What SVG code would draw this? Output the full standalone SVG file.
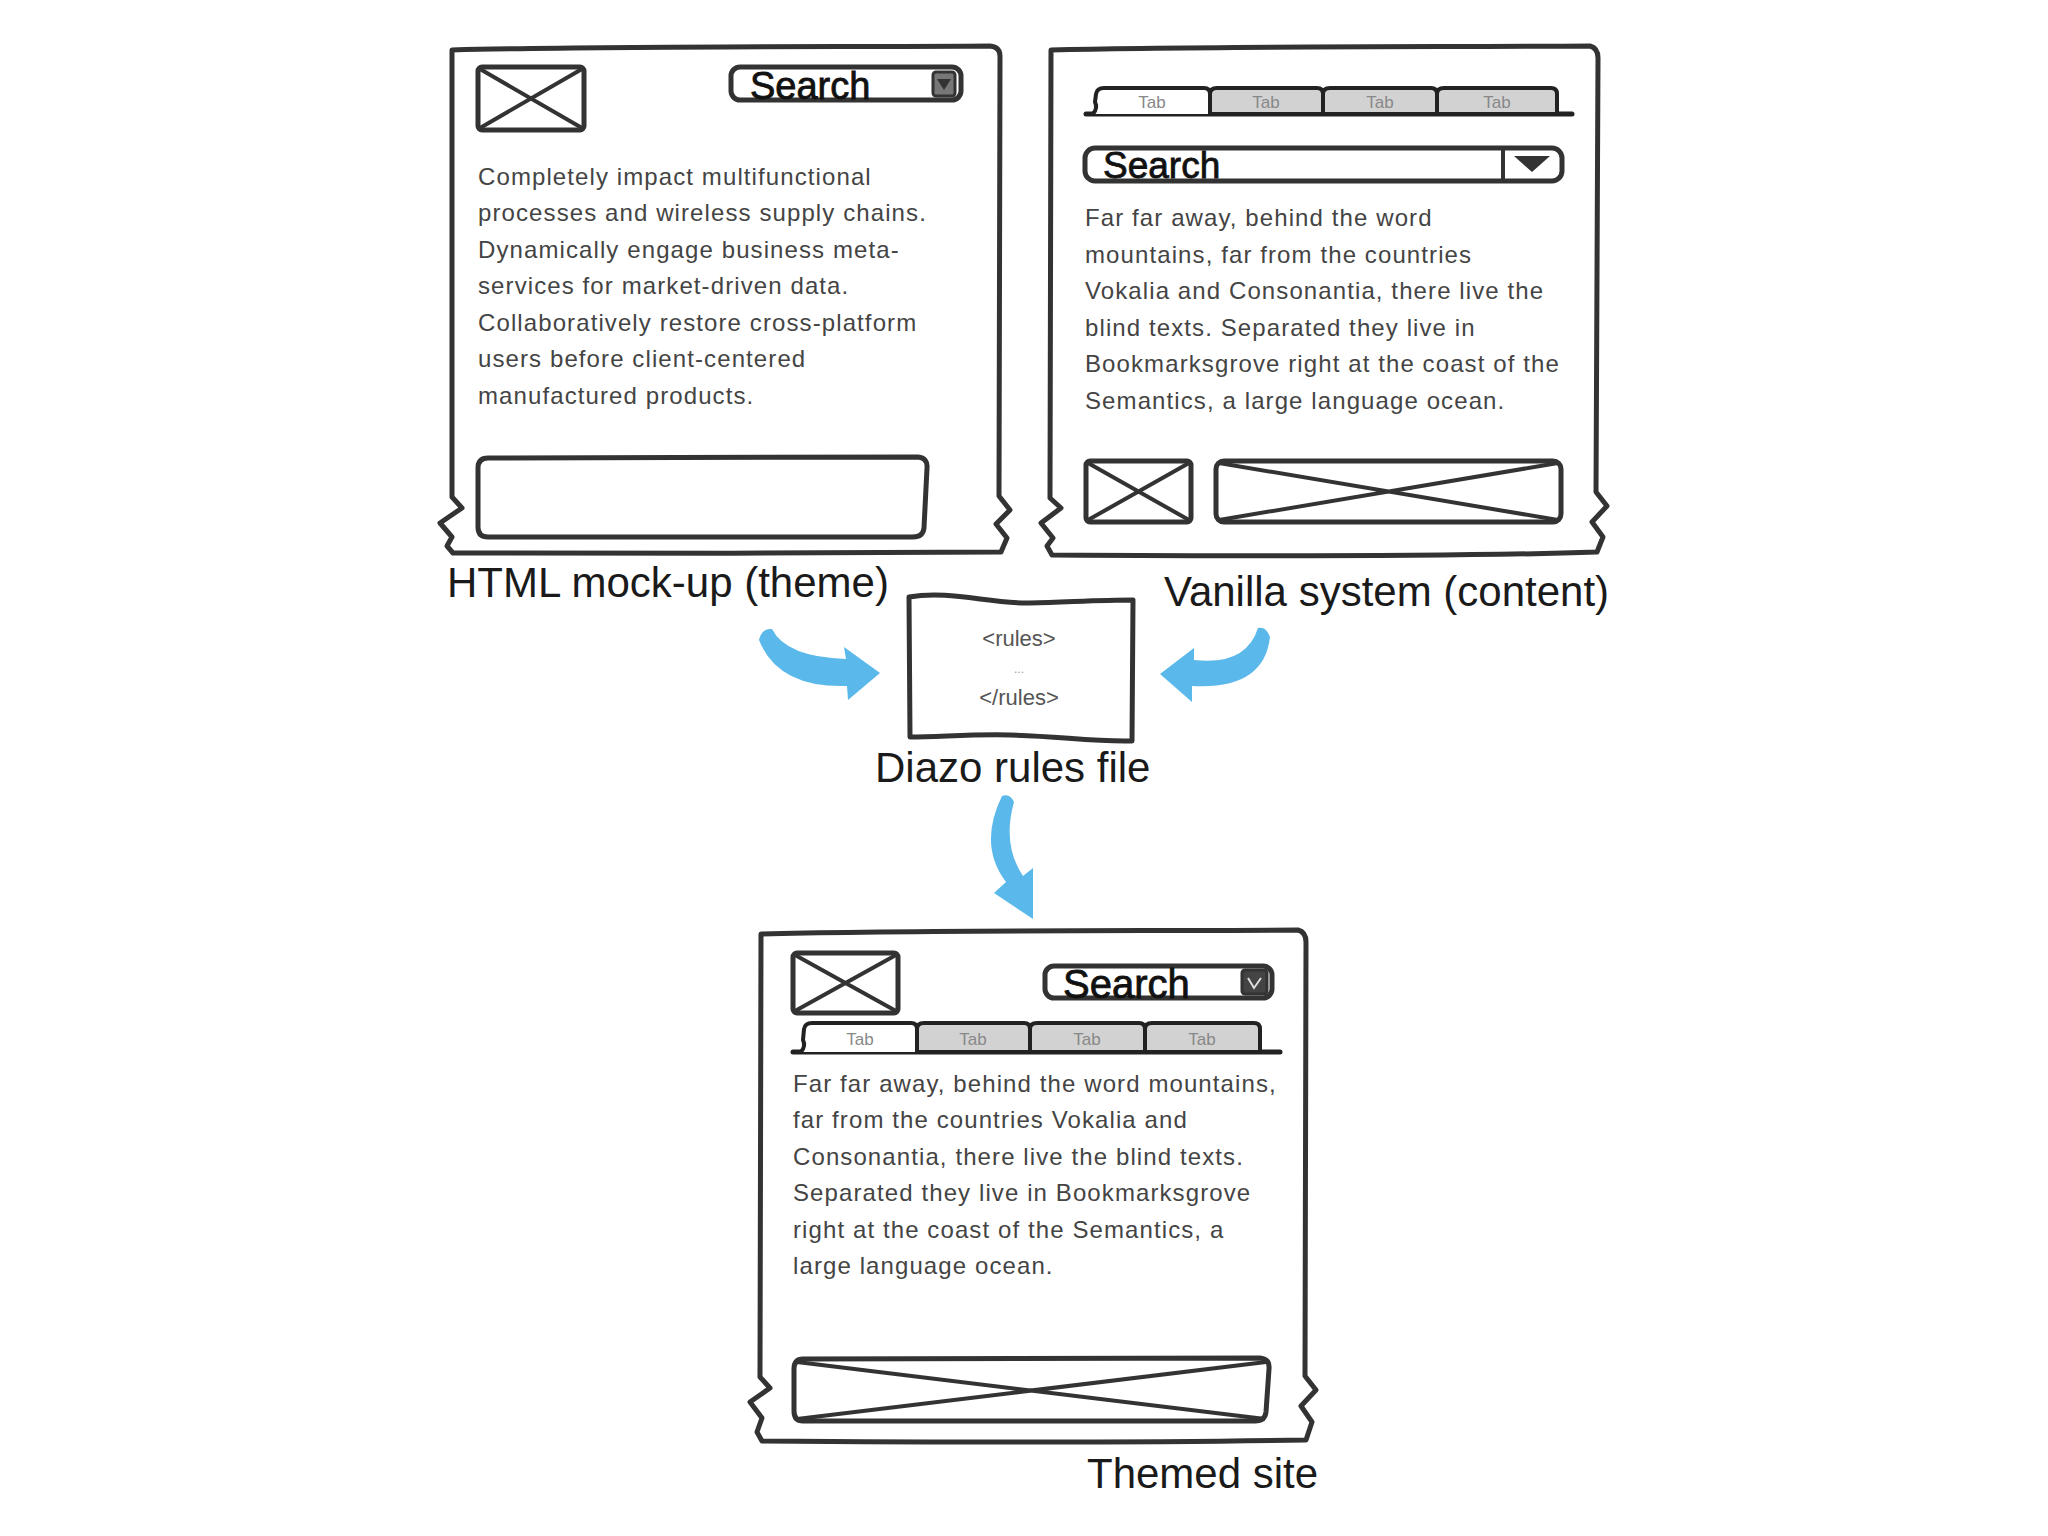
<svg xmlns="http://www.w3.org/2000/svg" width="2048" height="1536" viewBox="0 0 2048 1536">
<style>
.frame{fill:#fff;stroke:#333;stroke-width:5;stroke-linejoin:round}
.ph{fill:none;stroke:#333;stroke-width:5;stroke-linejoin:round}
.xl{stroke:#333;stroke-width:4;fill:none}
.para{font-family:"Liberation Sans",Arial,sans-serif;font-size:24px;letter-spacing:1.1px;fill:#444}
.label{font-family:"Liberation Sans",Arial,sans-serif;font-size:42px;fill:#1a1a1a}
.search{font-family:"Liberation Sans",Arial,sans-serif;font-size:38px;fill:#111;stroke:#111;stroke-width:0.8}
.tabw{fill:#fff;stroke:#222;stroke-width:4;stroke-linejoin:round}
.tabg{fill:#d2d2d2;stroke:#222;stroke-width:4;stroke-linejoin:round}
.tabline{stroke:#222;stroke-width:5;stroke-linecap:round}
.tabtxt{font-family:"Liberation Sans",Arial,sans-serif;font-size:17px;fill:#888;text-anchor:middle}
.rules{font-family:"Liberation Sans",Arial,sans-serif;font-size:22px;fill:#555;text-anchor:middle}
.arrow{fill:#5ab8ea}
</style>
<rect width="2048" height="1536" fill="#fff"/>

<g id="html-mockup">
<path class="frame" d="M452,50 C600,46 850,47 990,46 Q1000,47 1000,56 L999,496 L1010,510 L996,524 L1007,538 L1001,552 C850,554 600,553 453,553 L447,546 L452,537 L440,523 L462,508 L452,497 Z"/>
<rect class="ph" x="478" y="67" width="106" height="63" rx="4"/>
<path class="xl" d="M480,69 L582,128 M582,69 L480,128"/>
<rect class="ph" x="731" y="67" width="230" height="33" rx="9"/>
<text class="search" x="750" y="99">Search</text>
<rect x="933" y="72" width="22" height="24" rx="3" fill="#777" stroke="#333" stroke-width="3"/>
<path d="M937,79 L951,79 L944,90 Z" fill="#333"/>
<text class="para" x="478" y="185">Completely impact multifunctional</text>
<text class="para" x="478" y="221">processes and wireless supply chains.</text>
<text class="para" x="478" y="258">Dynamically engage business meta-</text>
<text class="para" x="478" y="294">services for market-driven data.</text>
<text class="para" x="478" y="331">Collaboratively restore cross-platform</text>
<text class="para" x="478" y="367">users before client-centered</text>
<text class="para" x="478" y="404">manufactured products.</text>
<path class="ph" d="M488,458 L918,457 Q928,458 927,468 L924,528 Q923,537 913,537 L488,537 Q478,537 478,527 L478,468 Q478,458 488,458 Z"/>
<text class="label" x="447" y="597">HTML mock-up (theme)</text>
</g>

<g id="vanilla-system">
<path class="frame" d="M1051,50 C1200,46 1450,47 1590,46 Q1598,48 1598,58 L1596,492 L1607,506 L1592,522 L1603,537 L1597,552 C1450,557 1200,556 1052,555 L1047,546 L1053,538 L1041,523 L1061,508 L1050,498 Z"/>
<line class="tabline" x1="1086" y1="114" x2="1572" y2="114"/>
<path class="tabg" d="M1437,114 L1437,94 Q1437,88 1444,88 L1551,88 Q1557,88 1557,94 L1557,114 Z"/>
<path class="tabg" d="M1323,114 L1323,94 Q1323,88 1330,88 L1431,88 Q1437,88 1437,94 L1437,114 Z"/>
<path class="tabg" d="M1210,114 L1210,94 Q1210,88 1217,88 L1317,88 Q1323,88 1323,94 L1323,114 Z"/>
<path class="tabw" d="M1093,114 Q1098,108 1095,102 L1096,94 Q1097,88 1104,88 L1204,88 Q1210,88 1210,94 L1210,114"/>
<text class="tabtxt" x="1152" y="108">Tab</text>
<text class="tabtxt" x="1266" y="108">Tab</text>
<text class="tabtxt" x="1380" y="108">Tab</text>
<text class="tabtxt" x="1497" y="108">Tab</text>
<rect class="ph" x="1085" y="148" width="477" height="33" rx="10"/>
<text class="search" x="1103" y="178" style="font-size:37px">Search</text>
<line x1="1503" y1="150" x2="1503" y2="179" stroke="#333" stroke-width="4"/>
<path d="M1514,156 L1550,156 L1532,172 Z" fill="#333"/>
<text class="para" x="1085" y="226">Far far away, behind the word</text>
<text class="para" x="1085" y="263">mountains, far from the countries</text>
<text class="para" x="1085" y="299">Vokalia and Consonantia, there live the</text>
<text class="para" x="1085" y="336">blind texts. Separated they live in</text>
<text class="para" x="1085" y="372">Bookmarksgrove right at the coast of the</text>
<text class="para" x="1085" y="409">Semantics, a large language ocean.</text>
<rect class="ph" x="1086" y="461" width="105" height="61" rx="4"/>
<path class="xl" d="M1088,463 L1189,520 M1189,463 L1088,520"/>
<rect class="ph" x="1216" y="461" width="345" height="61" rx="8"/>
<path class="xl" d="M1219,463 L1558,520 M1558,463 L1219,520"/>
<text class="label" x="1164" y="606">Vanilla system (content)</text>
</g>

<g id="diazo-rules">
<path class="frame" d="M909,597 C950,590 990,604 1030,603 C1070,602 1100,600 1133,600 L1132,741 C1090,742 1060,736 1010,735 C970,734 940,737 910,737 Z"/>
<text class="rules" x="1019" y="646">&lt;rules&gt;</text>
<text class="rules" x="1019" y="673" style="font-size:12px;fill:#999">...</text>
<text class="rules" x="1019" y="705">&lt;/rules&gt;</text>
<text class="label" x="875" y="782">Diazo rules file</text>
</g>

<g id="themed-site">
<path class="frame" d="M761,934 C900,930 1150,931 1298,930 Q1306,932 1306,942 L1305,1376 L1316,1390 L1301,1406 L1312,1422 L1306,1440 C1150,1443 900,1442 762,1441 L757,1432 L762,1418 L750,1402 L770,1388 L760,1377 Z"/>
<rect class="ph" x="793" y="953" width="105" height="60" rx="4"/>
<path class="xl" d="M795,955 L896,1011 M896,955 L795,1011"/>
<rect class="ph" x="1045" y="966" width="227" height="32" rx="9"/>
<text class="search" x="1063" y="998" style="font-size:40px">Search</text>
<rect x="1242" y="970" width="25" height="24" rx="3" fill="#444" stroke="#333" stroke-width="3"/>
<path d="M1248,978 L1254,988 L1261,978" fill="none" stroke="#ddd" stroke-width="2"/>
<line class="tabline" x1="793" y1="1052" x2="1280" y2="1052"/>
<path class="tabg" d="M1145,1052 L1145,1029 Q1145,1023 1152,1023 L1254,1023 Q1260,1023 1260,1029 L1260,1052 Z"/>
<path class="tabg" d="M1030,1052 L1030,1029 Q1030,1023 1037,1023 L1139,1023 Q1145,1023 1145,1029 L1145,1052 Z"/>
<path class="tabg" d="M917,1052 L917,1029 Q917,1023 924,1023 L1024,1023 Q1030,1023 1030,1029 L1030,1052 Z"/>
<path class="tabw" d="M801,1052 Q806,1046 803,1040 L804,1029 Q805,1023 812,1023 L911,1023 Q917,1023 917,1029 L917,1052"/>
<text class="tabtxt" x="860" y="1045">Tab</text>
<text class="tabtxt" x="973" y="1045">Tab</text>
<text class="tabtxt" x="1087" y="1045">Tab</text>
<text class="tabtxt" x="1202" y="1045">Tab</text>
<text class="para" x="793" y="1092">Far far away, behind the word mountains,</text>
<text class="para" x="793" y="1128">far from the countries Vokalia and</text>
<text class="para" x="793" y="1165">Consonantia, there live the blind texts.</text>
<text class="para" x="793" y="1201">Separated they live in Bookmarksgrove</text>
<text class="para" x="793" y="1238">right at the coast of the Semantics, a</text>
<text class="para" x="793" y="1274">large language ocean.</text>
<path class="ph" d="M803,1359 L1260,1358 Q1270,1359 1269,1369 L1266,1412 Q1265,1421 1255,1421 L803,1421 Q794,1421 794,1411 L794,1369 Q794,1359 803,1359 Z"/>
<path class="xl" d="M797,1362 L1265,1419 M1266,1362 L797,1419"/>
<text class="label" x="1087" y="1488">Themed site</text>
</g>

<g id="connectors">
<path class="arrow" d="M772,629 Q786,657 846,659 L844,647 L880,673 L848,700 L847,686 Q778,688 759,640 Q762,628 772,629 Z"/>
<path class="arrow" d="M1258,628 Q1246,666 1194,660 L1194,648 L1160,674 L1192,702 L1192,686 Q1264,690 1270,637 Q1266,626 1258,628 Z"/>
<path class="arrow" d="M1002,796 Q978,845 1006,882 L994,893 L1033,919 L1033,868 L1023,876 Q1002,845 1014,802 Q1010,793 1002,796 Z"/>
</g>
</svg>
